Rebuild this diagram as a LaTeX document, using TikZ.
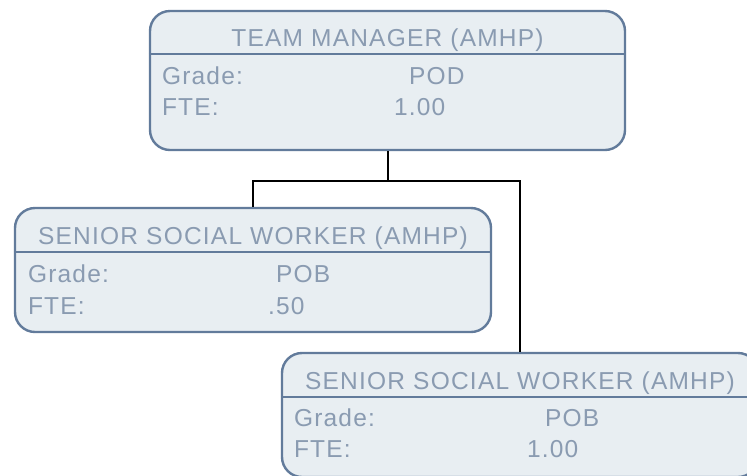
\documentclass[tikz,border=0pt]{standalone}
\usepackage{fontspec}
\setmainfont{Liberation Sans}[LetterSpace=5]
\usepackage{tikz}
\usetikzlibrary{positioning}

\definecolor{boxfill}{HTML}{E8EEF2}
\definecolor{boxline}{HTML}{627B9B}
\definecolor{boxtext}{HTML}{8A9BB1}

\begin{document}
\begin{tikzpicture}[
    x=1pt, y=-1pt,
    post/.style={rectangle, draw=boxline, fill=boxfill, line width=2.4pt, rounded corners=20pt, minimum width=476pt, inner sep=0pt},
    divider/.style={draw=boxline, line width=2.4pt},
    title/.style={anchor=base, text=boxtext, inner sep=0pt, font=\fontsize{24.5}{28}\selectfont},
    field/.style={anchor=base west, text=boxtext, inner sep=0pt, font=\fontsize{24.5}{28}\selectfont},
    link/.style={draw=black, line width=2pt}
]
\useasboundingbox (0,0) rectangle (747,475);

% boxes
\node [post, minimum width=475pt, minimum height=139pt] (manager) at (387.5,80.5) {};
\node [post, minimum height=124pt] (senior) at (253,270) {};
\node [post, minimum height=124pt] (seniortwo) at (520,415) {};

% connectors
\draw [link] (manager.south) -- ++(0,30) -| (senior.north);
\draw [link] (manager.south) -- ++(0,30) -| (seniortwo.north);

% dividers
\draw [divider] ([yshift=-44pt]manager.north west) -- ([yshift=-44pt]manager.north east);
\draw [divider] ([yshift=-45pt]senior.north west) -- ([yshift=-45pt]senior.north east);
\draw [divider] ([yshift=-45pt]seniortwo.north west) -- ([yshift=-45pt]seniortwo.north east);

% team manager
\node [title] (managertitle) at ([yshift=-37pt]manager.north) {TEAM MANAGER (AMHP)};
\node [field] (managergrade) at ([xshift=13pt, yshift=-75pt]manager.north west) {Grade:};
\node [field] (managerfte) at ([xshift=13pt, yshift=-106pt]manager.north west) {FTE:};
\node [field] (managergradeval) at ([xshift=260pt, yshift=-75pt]manager.north west) {POD};
\node [field] (managerfteval) at ([xshift=245pt, yshift=-106pt]manager.north west) {1.00};

% senior social worker, .50
\node [title] (seniortitle) at ([yshift=-38pt]senior.north) {SENIOR SOCIAL WORKER (AMHP)};
\node [field] (seniorgrade) at ([xshift=14pt, yshift=-76pt]senior.north west) {Grade:};
\node [field] (seniorfte) at ([xshift=14pt, yshift=-108pt]senior.north west) {FTE:};
\node [field] (seniorgradeval) at ([xshift=262pt, yshift=-76pt]senior.north west) {POB};
\node [field] (seniorfteval) at ([xshift=254pt, yshift=-108pt]senior.north west) {.50};

% senior social worker, 1.00
\node [title] (seniortwotitle) at ([yshift=-38pt]seniortwo.north) {SENIOR SOCIAL WORKER (AMHP)};
\node [field] (seniortwograde) at ([xshift=13pt, yshift=-75pt]seniortwo.north west) {Grade:};
\node [field] (seniortwofte) at ([xshift=13pt, yshift=-106pt]seniortwo.north west) {FTE:};
\node [field] (seniortwogradeval) at ([xshift=264pt, yshift=-75pt]seniortwo.north west) {POB};
\node [field] (seniortwofteval) at ([xshift=246pt, yshift=-106pt]seniortwo.north west) {1.00};

\end{tikzpicture}
\end{document}
